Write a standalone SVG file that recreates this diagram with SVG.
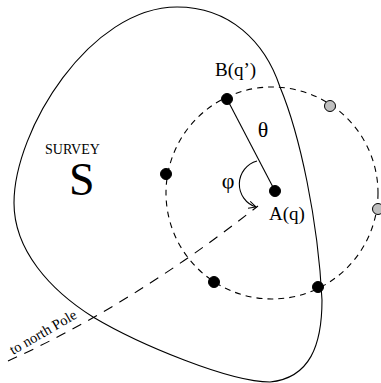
<svg xmlns="http://www.w3.org/2000/svg" width="381" height="383" viewBox="0 0 381 383">
<style>
text{font-family:'Liberation Serif','Times New Roman','DejaVu Serif',serif;fill:#000}
.ln{fill:none;stroke:#000;stroke-width:1.1}
.dot{fill:#000;stroke:#000;stroke-width:1}
.gdot{fill:#bfbfbf;stroke:#000;stroke-width:1}
</style>
<defs>
<marker id="open" viewBox="0 0 10 10" refX="9" refY="5" markerWidth="9" markerHeight="9" markerUnits="userSpaceOnUse" orient="auto">
<path d="M1,1 L9,5 L1,9" fill="none" stroke="#000" stroke-width="1.1"/>
</marker>
</defs>
<rect width="381" height="383" fill="#fff"/>
<g id="survey">
<path class="ln" d="M177,7 C230,7 265,42 280,87 C300,135 318,220 322,300 C322,345 310,378 270,382 C230,382 140,345 93,317 C50,290 14,250 14,203 C14,130 90,7 177,7 Z"/>
<text x="45" y="154" font-size="14" font-family="Liberation Serif, serif">SURVEY</text>
<text x="69" y="195" font-size="46" font-family="Liberation Serif, serif">S</text>
</g>
<g id="connectors">
<circle class="ln" cx="272" cy="193" r="106" stroke-dasharray="6,5"/>
<path class="ln" d="M8,361 Q132,305 258,206" stroke-dasharray="10,8"/>
<line class="ln" x1="227" y1="99" x2="275" y2="191"/>
<path class="ln" d="M257,161 A24,24 0 0 0 256,207" marker-end="url(#open)"/>
<text x="263" y="137" font-size="22" text-anchor="middle" font-family="Liberation Serif, serif">θ</text>
<text x="228" y="188" font-size="22" text-anchor="middle" font-family="Liberation Serif, serif">φ</text>
<text font-size="14.5" font-family="Liberation Serif, serif" transform="translate(13,355) rotate(-30)">to north Pole</text>
</g>
<g id="nodeB">
<circle class="dot" cx="227" cy="99" r="5.5"/>
<text x="215" y="76" font-size="19" font-family="Liberation Serif, serif">B(q’)</text>
</g>
<g id="nodeA">
<circle class="dot" cx="275" cy="191" r="5.5"/>
<text x="269" y="220" font-size="19" font-family="Liberation Serif, serif">A(q)</text>
</g>
<g id="dot-left"><circle class="dot" cx="166" cy="174" r="5.5"/></g>
<g id="dot-bl"><circle class="dot" cx="214" cy="282" r="5.5"/></g>
<g id="dot-br"><circle class="dot" cx="318" cy="287" r="5.5"/></g>
<g id="dot-gray1"><circle class="gdot" cx="330" cy="106" r="5.5"/></g>
<g id="dot-gray2"><circle class="gdot" cx="378" cy="209" r="5.5"/></g>
</svg>
